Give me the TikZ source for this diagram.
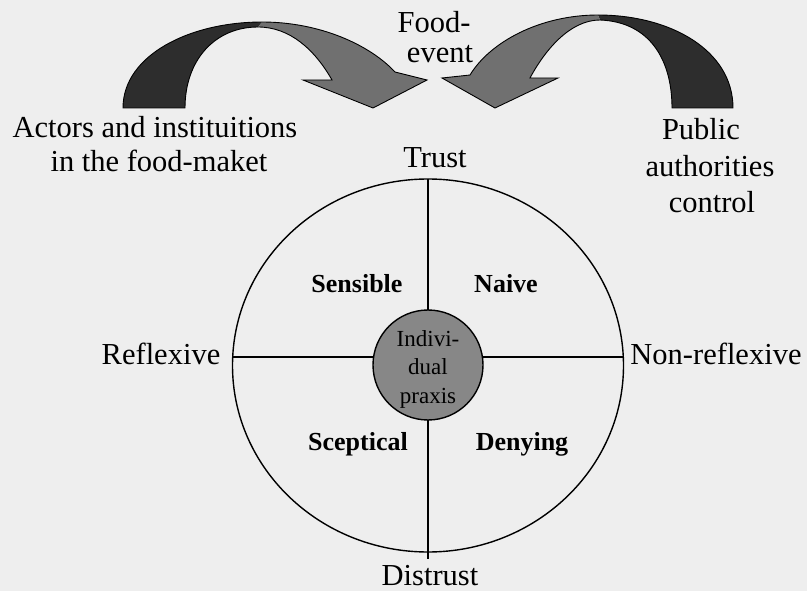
\documentclass[tikz,border=0pt]{standalone}
\usepackage{fontspec}
\setmainfont{Liberation Serif}
\usetikzlibrary{shapes.geometric}
\definecolor{bg}{RGB}{238,238,238}
\definecolor{arrdark}{RGB}{45,45,45}
\definecolor{arrlight}{RGB}{112,112,112}
\definecolor{praxisfill}{RGB}{135,135,135}
\begin{document}
\begin{tikzpicture}[x=1pt,y=-1pt,
  lbl/.style={font=\fontsize{30.5}{36}\selectfont, inner sep=0pt, anchor=base},
  quad/.style={font=\bfseries\fontsize{26}{30}\selectfont, inner sep=0pt, anchor=base},
  axisline/.style={line width=1.4pt},
  ring/.style={draw=black, line width=1.4pt},
  arrowline/.style={draw=black, line width=0.9pt, line join=miter}]
\fill[bg] (0,0) rectangle (807,591);
\useasboundingbox (0,0) rectangle (807,591);

% ---- left curved arrow ----
\fill[arrdark] (123,108) .. controls (123,55) and (190,22) .. (262,22)
  -- (258,27) .. controls (215,27) and (185,60) .. (185,108) -- cycle;
\fill[arrlight] (262,22) .. controls (320,22) and (370,45) .. (395,72)
  -- (427,80) -- (373,108) -- (303,80) -- (332,80)
  .. controls (315,50) and (290,27) .. (258,27) -- cycle;
\draw[arrowline] (123,108) .. controls (123,55) and (190,22) .. (262,22)
  .. controls (320,22) and (370,45) .. (395,72)
  -- (427,80) -- (373,108) -- (303,80) -- (332,80)
  .. controls (315,50) and (290,27) .. (258,27)
  .. controls (215,27) and (185,60) .. (185,108) -- cycle;

% ---- right curved arrow ----
\fill[arrdark] (733,108) .. controls (733,50) and (670,15) .. (598,15)
  -- (600,20) .. controls (650,22) and (672,60) .. (672,108) -- cycle;
\fill[arrlight] (598,15) .. controls (540,15) and (490,42) .. (470,75)
  -- (442,78) -- (495,108) -- (558,78) -- (530,78)
  .. controls (545,50) and (570,20) .. (600,20) -- cycle;
\draw[arrowline] (733,108) .. controls (733,50) and (670,15) .. (598,15)
  .. controls (540,15) and (490,42) .. (470,75)
  -- (442,78) -- (495,108) -- (558,78) -- (530,78)
  .. controls (545,50) and (570,20) .. (600,20)
  .. controls (650,22) and (672,60) .. (672,108) -- cycle;

% ---- top labels ----
\node[lbl] (food1) at (434,33) {Food-};
\node[lbl] (food2) at (440,63) {event};
\node[lbl] (act1) at (155,138) {Actors and instituitions};
\node[lbl] (act2) at (159,172) {in the food-maket};
\node[lbl] (pub1) at (701,140) {Public};
\node[lbl] (pub2) at (710,177) {authorities};
\node[lbl] (pub3) at (712,213) {control};

% ---- big circle and axes ----
\node[ring, ellipse, minimum width=391pt, minimum height=373pt, inner sep=0pt] (big) at (428,365.5) {};
\coordinate (vtop) at (428,179);
\coordinate (vbot) at (428,559);
\coordinate (hleft) at (232,357);
\coordinate (hright) at (623,357);
\draw[axisline] (vtop) -- (vbot);
\draw[axisline] (hleft) -- (hright);

% ---- centre ----
\node[ring, circle, fill=praxisfill, minimum size=110pt, inner sep=0pt] (praxis) at (428,365) {};
\node[font=\fontsize{23}{28.5}\selectfont, align=center, inner sep=0pt] (praxistext) at (428,369) {Indivi-\\dual\\praxis};

% ---- axis labels ----
\node[lbl] (trust) at (435,168) {Trust};
\node[lbl] (distrust) at (430,585) {Distrust};
\node[lbl] (reflex) at (161,364) {Reflexive};
\node[lbl] (nonreflex) at (716,364) {Non-reflexive};

% ---- quadrant labels ----
\node[quad] (sensible) at (357,293) {Sensible};
\node[quad] (naive) at (506,293) {Naive};
\node[quad] (sceptical) at (358,450) {Sceptical};
\node[quad] (denying) at (522,450) {Denying};
\end{tikzpicture}
\end{document}
